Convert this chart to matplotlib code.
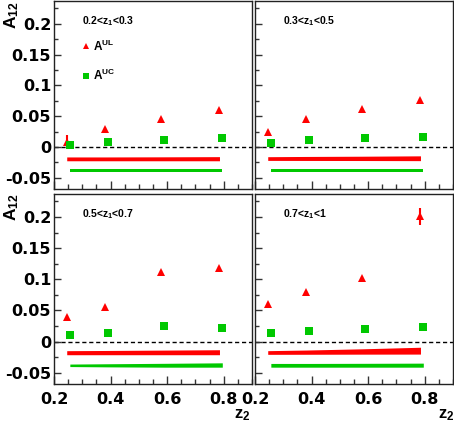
import matplotlib
matplotlib.use("Agg")
import matplotlib.pyplot as plt
from matplotlib.lines import Line2D
from matplotlib.ticker import MultipleLocator, FuncFormatter

plt.rcParams['font.family'] = ['DejaVu Sans']
plt.rcParams['mathtext.fontset'] = 'custom'
plt.rcParams['mathtext.rm'] = 'Liberation Sans'
plt.rcParams['mathtext.bf'] = 'Liberation Sans:bold'
plt.rcParams['mathtext.it'] = 'Liberation Sans:italic'

# ---------------- data ----------------
bin_labels = [r'0.2<z$_\mathbf{1}$<0.3', r'0.3<z$_\mathbf{1}$<0.5',
              r'0.5<z$_\mathbf{1}$<0.7', r'0.7<z$_\mathbf{1}$<1']
z2_ul = [0.245, 0.380, 0.580, 0.785]
z2_uc = [0.256, 0.390, 0.590, 0.795]

a_ul = [[0.009, 0.029, 0.046, 0.060],
        [0.025, 0.046, 0.061, 0.077],
        [0.039, 0.056, 0.112, 0.118],
        [0.060, 0.079, 0.102, 0.201]]
a_ul_err = [[0.010, 0.003, 0.003, 0.003],
            [0.003, 0.003, 0.003, 0.003],
            [0.003, 0.003, 0.003, 0.003],
            [0.003, 0.003, 0.003, 0.014]]
a_uc = [[0.003, 0.0075, 0.012, 0.0145],
        [0.006, 0.0115, 0.015, 0.017],
        [0.010, 0.0135, 0.025, 0.0225],
        [0.0145, 0.0177, 0.020, 0.0237]]
a_uc_err = [[0.002, 0.002, 0.002, 0.002],
            [0.002, 0.002, 0.002, 0.002],
            [0.002, 0.002, 0.002, 0.002],
            [0.002, 0.002, 0.002, 0.004]]

# systematic bands (upper, lower edges at each z2 point)
sys_ul_hi = [[-0.016, -0.016, -0.0158, -0.0155],
             [-0.0156, -0.0152, -0.0148, -0.0142],
             [-0.0145, -0.0142, -0.0136, -0.013],
             [-0.0145, -0.0135, -0.0115, -0.009]]
sys_ul_lo = [[-0.0222, -0.0222, -0.0222, -0.0222],
             [-0.0216, -0.0217, -0.0218, -0.022],
             [-0.021, -0.021, -0.021, -0.021],
             [-0.0204, -0.0203, -0.0201, -0.020]]
sys_uc_hi = [[-0.035, -0.035, -0.035, -0.035],
             [-0.035, -0.035, -0.035, -0.035],
             [-0.036, -0.0355, -0.0348, -0.034],
             [-0.035, -0.035, -0.0348, -0.0345]]
sys_uc_lo = [[-0.041, -0.041, -0.041, -0.041],
             [-0.041, -0.041, -0.041, -0.041],
             [-0.040, -0.0405, -0.041, -0.041],
             [-0.041, -0.041, -0.041, -0.041]]

RED = '#ff0000'
GREEN = '#00c800'

W, H = 454, 424
fig = plt.figure(figsize=(W / 100, H / 100), dpi=100)

def frac_rect(x0, y0, x1, y1):
    return [x0 / W, 1 - y1 / H, (x1 - x0) / W, (y1 - y0) / H]

rects = [frac_rect(54, 1, 252, 189), frac_rect(255, 1, 453, 189),
         frac_rect(54, 194, 252, 384), frac_rect(255, 194, 453, 384)]

fmt = FuncFormatter(lambda v, p: ('%g' % round(v, 4)) if abs(v) > 1e-9 else '0')

for i in range(4):
    ax = fig.add_axes(rects[i])
    ax.set_xlim(0.2, 0.9)
    ax.set_ylim(-0.068, 0.237)
    ax.axhline(0, color='black', lw=1.0, ls=(0, (3, 2)), zorder=1)

    ax.fill_between(z2_ul, sys_ul_lo[i], sys_ul_hi[i], color=RED, lw=0, zorder=2)
    ax.fill_between(z2_uc, sys_uc_lo[i], sys_uc_hi[i], color=GREEN, lw=0, zorder=2)

    ax.errorbar(z2_ul, a_ul[i], yerr=a_ul_err[i], fmt='^', color=RED, ms=6,
                mew=0, elinewidth=1.5, capsize=0, zorder=3)
    ax.errorbar(z2_uc, a_uc[i], yerr=a_uc_err[i], fmt='s', color=GREEN, ms=5.5,
                mew=0, elinewidth=1.5, capsize=0, zorder=3)

    ax.xaxis.set_major_locator(MultipleLocator(0.2))
    ax.xaxis.set_minor_locator(MultipleLocator(0.05))
    ax.yaxis.set_major_locator(MultipleLocator(0.05))
    ax.yaxis.set_minor_locator(MultipleLocator(0.025))
    ax.tick_params(which='both', direction='in', top=False, right=False, color='#333333')
    ax.tick_params(which='major', length=5, width=1)
    ax.tick_params(which='minor', length=3, width=1)
    ax.tick_params(axis='x', which='both', length=6)
    ax.tick_params(axis='x', which='minor', length=3.5)
    ax.tick_params(axis='x', pad=6)
    ax.tick_params(axis='y', pad=2)
    for s in ax.spines.values():
        s.set_linewidth(1.0)
        s.set_color('#222222')

    if i % 2 == 0:
        ax.yaxis.set_major_formatter(fmt)
        for lab in ax.get_yticklabels():
            lab.set_fontweight('bold')
            lab.set_fontsize(11.5)
    else:
        ax.set_yticklabels([])
    if i >= 2:
        ax.xaxis.set_major_formatter(fmt)
        for lab in ax.get_xticklabels():
            lab.set_fontweight('bold')
            lab.set_fontsize(11.5)
    else:
        ax.set_xticklabels([])

    ax.text(0.14, 0.895, bin_labels[i], transform=ax.transAxes,
            fontsize=7.5, fontweight='bold', family='Liberation Sans',
            ha='left', va='center')

    if i == 0:
        handles = [Line2D([], [], marker='^', color=RED, ls='none', ms=4.5, mew=0),
                   Line2D([], [], marker='s', color=GREEN, ls='none', ms=4.5, mew=0)]
        ax.legend(handles, [r'$\mathbf{A^{UL}}$', r'$\mathbf{A^{UC}}$'],
                  loc='upper left', bbox_to_anchor=(0.095, 0.845), frameon=False,
                  fontsize=8.5, handlelength=0.8, handletextpad=0.25,
                  labelspacing=1.2, borderpad=0.2)

fig.text(2 / W, 1 - 1 / H, r'$\mathbf{A_{12}}$', rotation=90, ha='left', va='top', fontsize=12.5)
fig.text(2 / W, 1 - 193 / H, r'$\mathbf{A_{12}}$', rotation=90, ha='left', va='top', fontsize=12.5)
fig.text(242 / W, 1 / H, r'$\mathbf{z_2}$', ha='center', va='bottom', fontsize=12)
fig.text(446 / W, 1 / H, r'$\mathbf{z_2}$', ha='center', va='bottom', fontsize=12)

fig.savefig('out.png', dpi=100)
